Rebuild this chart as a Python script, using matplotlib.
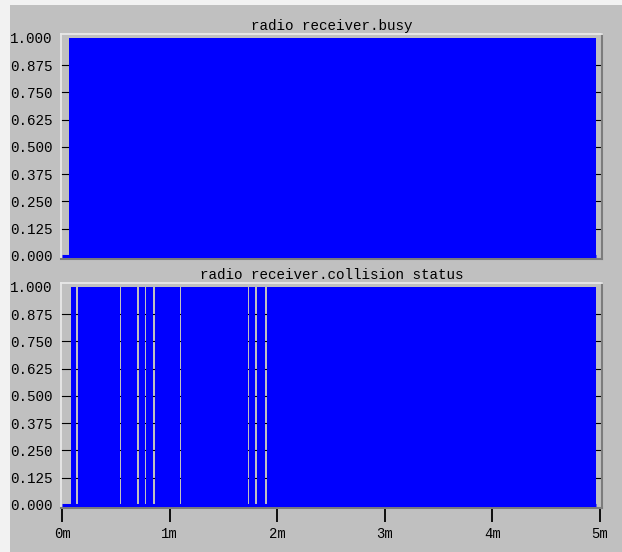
import matplotlib
matplotlib.use("Agg")
import matplotlib.pyplot as plt
from matplotlib.patches import Rectangle

# ---- data (time in minutes, step values) ----
busy_t = [0.000, 0.065, 4.965]
busy_v = [0, 1, 1]

collision_t = [0.000, 0.081, 0.130, 0.145, 0.533, 0.548, 0.698, 0.712,
               0.765, 0.779, 0.846, 0.860, 1.094, 1.108, 1.727, 1.741,
               1.795, 1.809, 1.882, 1.901, 4.965]
collision_v = [0, 1, 0, 1, 0, 1, 0, 1, 0, 1, 0, 1, 0, 1, 0, 1, 0, 1, 0, 1, 1]

titles = ["radio receiver.busy", "radio receiver.collision status"]
y_ticks = [0.0, 0.125, 0.25, 0.375, 0.5, 0.625, 0.75, 0.875, 1.0]
y_labels = ["0.000", "0.125", "0.250", "0.375", "0.500", "0.625", "0.750", "0.875", "1.000"]
x_ticks = [0, 1, 2, 3, 4, 5]
x_labels = ["0m", "1m", "2m", "3m", "4m", "5m"]

BLUE = "#0000ff"
GRAY = "#c0c0c0"
MONO = ["Liberation Mono", "DejaVu Sans Mono"]

W, H = 622, 552
fig = plt.figure(figsize=(W / 100, H / 100), dpi=100)
fig.patch.set_facecolor("#f2f2f2")
fig.patches.append(Rectangle((10 / W, 0), 1 - 10 / W, (H - 5) / H,
                             transform=fig.transFigure, facecolor=GRAY,
                             edgecolor="none", zorder=-10))


def px_axes(left, top, right, bottom):
    return fig.add_axes([left / W, (H - bottom) / H, (right - left) / W, (bottom - top) / H])


axes = [px_axes(61, 34, 602, 259), px_axes(61, 283, 602, 508)]
series = [(busy_t, busy_v), (collision_t, collision_v)]

for i, (ax, (t, v)) in enumerate(zip(axes, series)):
    ax.set_facecolor(GRAY)
    ax.set_xlim(-0.012, 5.021)
    ax.set_ylim(-0.0138, 1.0183)
    # grid lines behind the fill
    for yt in y_ticks[1:-1]:
        ax.axhline(yt, color="black", lw=0.8, zorder=1)
    ax.fill_between(t, 0, v, step="post", color=BLUE, lw=0, zorder=2)
    ax.hlines(0, t[0], t[-1], color=BLUE, lw=2.2, zorder=3)
    ax.set_yticks(y_ticks)
    ax.set_yticklabels(y_labels, family=MONO, fontsize=10.3)
    ax.tick_params(axis="y", length=0, pad=6)
    ax.set_title(titles[i], family=MONO, fontsize=10.3, pad=3)
    for s in ["left", "top"]:
        ax.spines[s].set_color("#e8e8e8")
        ax.spines[s].set_linewidth(1.3)
    for s in ["right", "bottom"]:
        ax.spines[s].set_color("#7c7c7c")
        ax.spines[s].set_linewidth(1.5)
    ax.set_xticks(x_ticks)
    if i == 0:
        ax.tick_params(axis="x", length=0, labelbottom=False)
    else:
        ax.set_xticklabels(x_labels, family=MONO, fontsize=10)
        ax.tick_params(axis="x", length=10, width=1.3, color="black",
                       direction="out", pad=3.5)

fig.savefig("out.png", dpi=100, facecolor=fig.get_facecolor())
